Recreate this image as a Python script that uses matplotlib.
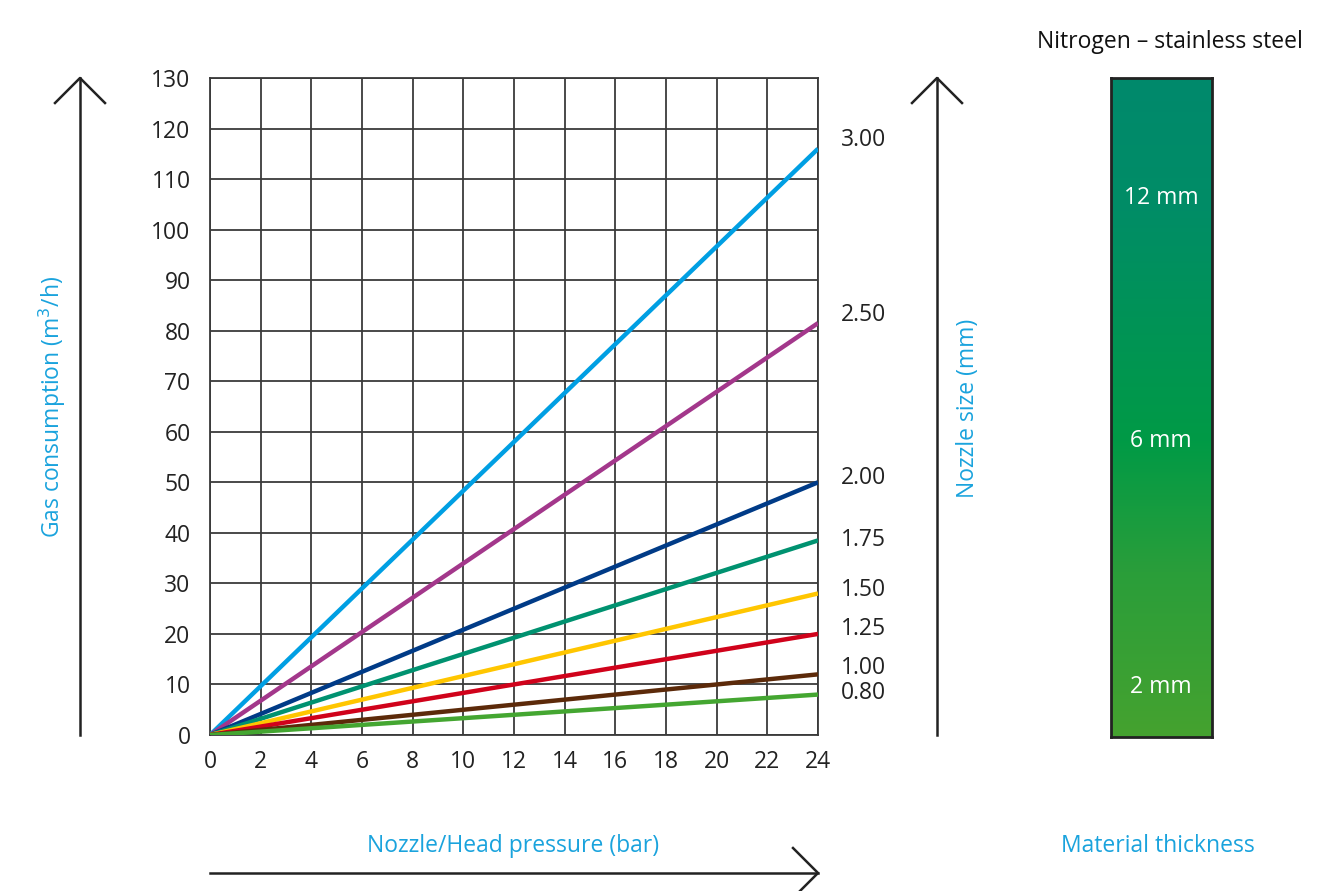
import numpy as np
import matplotlib.pyplot as plt
from matplotlib.colors import LinearSegmentedColormap

plt.rcParams['font.family'] = ['Open Sans', 'DejaVu Sans']

# datos: consumo de gas a 24 bar para cada boquilla
boquillas = ['3.00', '2.50', '2.00', '1.75', '1.50', '1.25', '1.00', '0.80']
consumo_24 = [116, 81.5, 50, 38.5, 28, 20, 12, 8]
colores = ['#009FE3', '#A3378B', '#003B87', '#009270', '#FFC600', '#D0021B', '#5C2A0A', '#44A631']
# posicion vertical de las etiquetas de boquilla (valores de consumo)
etiqueta_y = [117.7, 83.1, 50.9, 38.6, 28.7, 21.0, 13.3, 8.3]

presion = [0, 24]
espesores = ['12 mm', '6 mm', '2 mm']
espesor_y = [198, 441, 687]

azul = '#1AA3DD'
gris = '#3a3a3a'
fs = 16.5

fig = plt.figure(figsize=(13.44, 8.91), dpi=100)
W, H = 1344, 891

ax = fig.add_axes([210 / W, (H - 735) / H, 608 / W, 657 / H])
for c, v, col in zip(boquillas, consumo_24, colores):
    ax.plot(presion, [0, v], color=col, lw=3.2, solid_capstyle='butt', zorder=3)
for c, ly in zip(boquillas, etiqueta_y):
    ax.text(24.9, ly, c, fontsize=fs, color='#222222', va='center', ha='left', clip_on=False)

ax.set_xlim(0, 24)
ax.set_ylim(0, 130)
ax.set_xticks(np.arange(0, 25, 2))
ax.set_yticks(np.arange(0, 131, 10))
ax.grid(True, color=gris, lw=1.3)
ax.set_axisbelow(True)
for s in ax.spines.values():
    s.set_color(gris)
    s.set_linewidth(1.3)
ax.tick_params(length=0, labelsize=fs, labelcolor='#222222', pad=11)
ax.tick_params(axis='y', pad=14)

# capa de anotaciones en pixeles
ov = fig.add_axes([0, 0, 1, 1], zorder=-1)
ov.set_xlim(0, W)
ov.set_ylim(H, 0)
ov.axis('off')

def flecha_v(x):
    ov.plot([x, x], [735, 78], color='#222222', lw=1.8)
    ov.plot([x - 25, x, x + 25], [103, 78, 103], color='#222222', lw=1.8)

flecha_v(80)
flecha_v(937)
ov.plot([210, 818], [873, 873], color='#222222', lw=1.8)
ov.plot([793, 818, 793], [848, 873, 898], color='#222222', lw=1.8)

ov.text(52, 407, 'Gas consumption (m$^3$/h)', rotation=90, color=azul, fontsize=fs,
        ha='center', va='center')
ov.text(968, 408, 'Nozzle size (mm)', rotation=90, color=azul, fontsize=fs,
        ha='center', va='center')
ov.text(513, 846, 'Nozzle/Head pressure (bar)', color=azul, fontsize=fs,
        ha='center', va='center')
ov.text(1158, 846, 'Material thickness', color=azul, fontsize=fs,
        ha='center', va='center')
ov.text(1303, 42, 'Nitrogen – stainless steel', color='#111111', fontsize=fs,
        ha='right', va='center')

# barra de espesor con degradado
cmap = LinearSegmentedColormap.from_list(
    'verde', [(0, '#00896C'), (0.2, '#008D66'), (0.55, '#009A46'), (0.75, '#2A9E3A'), (1, '#45A22F')])
bar = fig.add_axes([1111 / W, (H - 737) / H, 101 / W, 659 / H])
bar.imshow(np.linspace(0, 1, 256).reshape(-1, 1), aspect='auto', cmap=cmap,
           extent=[0, 1, 1, 0])
bar.set_xticks([])
bar.set_yticks([])
for s in bar.spines.values():
    s.set_color('#222222')
    s.set_linewidth(2)
for t, y in zip(espesores, espesor_y):
    bar.text(1161, y, t, color='white', fontsize=fs, ha='center', va='center',
             transform=ov.transData, clip_on=False, zorder=5)

fig.savefig('out.png', dpi=100)
